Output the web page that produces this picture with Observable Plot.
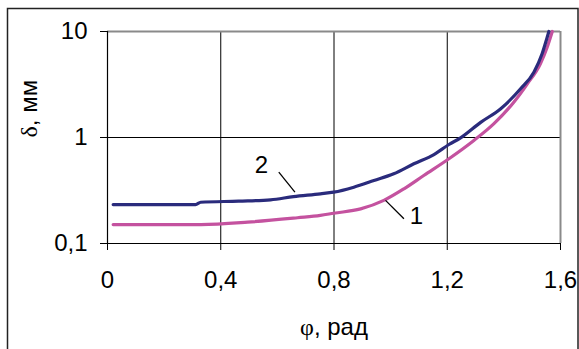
<!DOCTYPE html>
<html>
<head>
<meta charset="utf-8">
<script src="https://cdn.jsdelivr.net/npm/d3@7"></script>
<script src="https://cdn.jsdelivr.net/npm/@observablehq/plot@0.6"></script>
<style>
  body { margin: 0; background: #fff; }
  #chart svg { display: block; }
</style>
</head>
<body>
<div id="chart"></div>
<script>
// Curve 1 (magenta)
const phi1   = [0.02, 0.33, 0.495, 0.671, 0.752, 0.799, 0.894, 0.976, 1.047, 1.117, 1.206, 1.294, 1.365, 1.435, 1.483, 1.529, 1.553, 1.571];
const delta1 = [0.151, 0.151, 0.159, 0.175, 0.184, 0.193, 0.212, 0.255, 0.328, 0.438, 0.630, 0.937, 1.35, 2.15, 3.21, 4.96, 7.11, 10];
// Curve 2 (dark blue)
const phi2   = [0.02, 0.311, 0.329, 0.463, 0.576, 0.657, 0.752, 0.799, 0.870, 0.941, 1.011, 1.082, 1.153, 1.206, 1.247, 1.318, 1.389, 1.459, 1.506, 1.535, 1.553, 1.559];
const delta2 = [0.233, 0.233, 0.245, 0.251, 0.258, 0.277, 0.294, 0.305, 0.340, 0.393, 0.455, 0.565, 0.691, 0.859, 0.993, 1.39, 1.87, 2.88, 4.13, 6.16, 8.83, 10];
// Curve labels with leader lines
const curveNames  = ["1", "2"];
const labelPhi    = [1.091, 0.544];
const labelDelta  = [0.180, 0.544];
const leaderPhiA  = [1.047, 0.605];
const leaderDeltaA= [0.171, 0.471];
const leaderPhiB  = [0.982, 0.662];
const leaderDeltaB= [0.255, 0.305];
// Ticks
const xTicks = [0, 0.4, 0.8, 1.2, 1.6];
const yTicks = [0.1, 1, 10];
const xLabel = "φ, рад";
const yLabel = "δ, мм";

const c1 = "#c4529f", c2 = "#2a2b7c";
const fmt = d => String(d).replace(".", ",");

const s1 = phi1.map((p, i) => ({phi: p, delta: delta1[i]}));
const s2 = phi2.map((p, i) => ({phi: p, delta: delta2[i]}));
const labels = curveNames.map((n, i) => ({n, x: labelPhi[i], y: labelDelta[i]}));
const leaders = curveNames.map((n, i) => ({x1: leaderPhiA[i], y1: leaderDeltaA[i], x2: leaderPhiB[i], y2: leaderDeltaB[i]}));

const chart = Plot.plot({
  width: 579, height: 349,
  marginLeft: 107, marginTop: 31, marginRight: 19, marginBottom: 106,
  style: {fontFamily: "'Liberation Sans', Arial, sans-serif", fontSize: "24px", color: "#000", background: "#fff"},
  x: {domain: [0, 1.6]},
  y: {type: "log", domain: [0.1, 10]},
  marks: [
    Plot.gridX([0.4, 0.8, 1.2], {stroke: "#000", strokeOpacity: 1, strokeWidth: 1}),
    Plot.gridY([1], {stroke: "#000", strokeOpacity: 1, strokeWidth: 1}),
    Plot.ruleY([10], {stroke: "#8a8a8a", strokeWidth: 2}),
    Plot.ruleX([1.6], {stroke: "#8a8a8a", strokeWidth: 2}),
    Plot.axisX({ticks: xTicks, tickFormat: fmt, tickSize: 7, tickPadding: 20, label: null, fontSize: 24}),
    Plot.axisY({ticks: yTicks, tickFormat: fmt, tickSize: 7, tickPadding: 13, label: null, fontSize: 24}),
    Plot.ruleX([0], {stroke: "#000", strokeWidth: 1.2}),
    Plot.ruleY([0.1], {stroke: "#000", strokeWidth: 1.2}),
    Plot.line(s1, {x: "phi", y: "delta", stroke: c1, strokeWidth: 3.2, curve: "monotone-x"}),
    Plot.line(s2, {x: "phi", y: "delta", stroke: c2, strokeWidth: 3.2, curve: "monotone-x"}),
    Plot.link(leaders, {x1: "x1", y1: "y1", x2: "x2", y2: "y2", stroke: "#000", strokeWidth: 1.3}),
    Plot.text(labels, {x: "x", y: "y", text: "n", fontSize: 24, fill: "#000"}),
    Plot.text([xLabel], {frameAnchor: "bottom", dy: 91, fontSize: 24, fill: "#000"}),
    Plot.text([yLabel], {frameAnchor: "left", dx: -78, rotate: -90, fontSize: 24, fill: "#000"})
  ]
});

// Greek letters in a serif face, as in the reference
d3.select(chart).selectAll("text").each(function() {
  const t = this.textContent;
  if (t === xLabel || t === yLabel) {
    const sel = d3.select(this);
    sel.text(null);
    sel.append("tspan").attr("font-family", "'Liberation Serif', 'Times New Roman', serif").text(t[0]);
    sel.append("tspan").text(t.slice(1));
  }
});

// outer chart-area frame
d3.select(chart).append("rect")
  .attr("x", 7.5).attr("y", 8.5).attr("width", 570.5).attr("height", 360)
  .attr("fill", "none").attr("stroke", "#222").attr("stroke-width", 1.5);

document.getElementById("chart").appendChild(chart);
</script>
</body>
</html>
